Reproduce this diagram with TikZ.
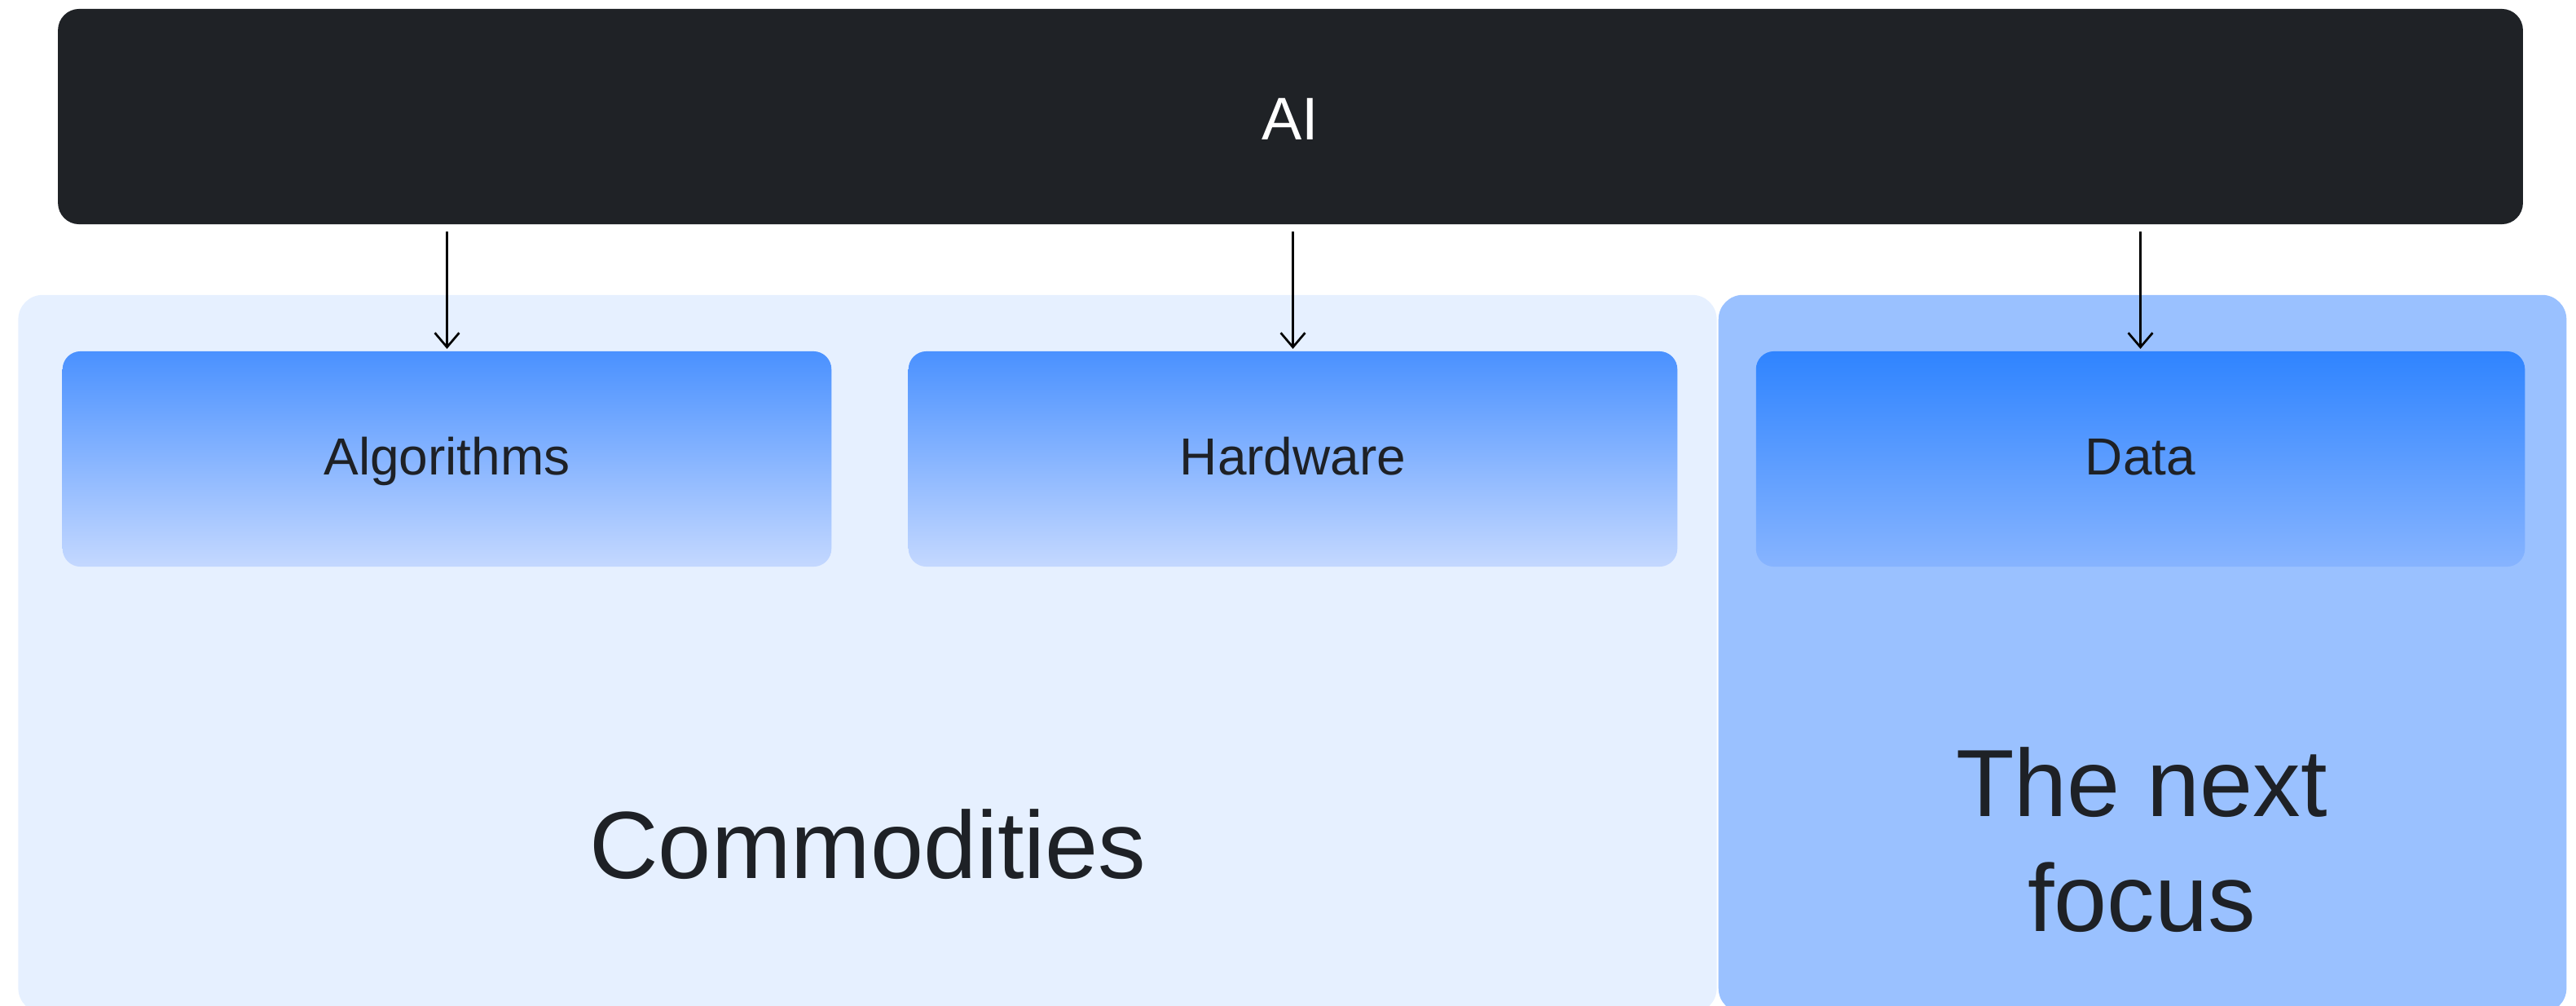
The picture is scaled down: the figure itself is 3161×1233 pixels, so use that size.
\documentclass[tikz,border=0pt]{standalone}
\usepackage{fontspec}
\setmainfont{Liberation Sans}
\usetikzlibrary{arrows.meta}

\definecolor{inkdark}{HTML}{1F2226}
\definecolor{textdark}{HTML}{1E2126}
\definecolor{commodbg}{HTML}{E6F0FF}
\definecolor{focusbg}{HTML}{9AC1FF}
\definecolor{pilltop}{HTML}{4A91FF}
\definecolor{pillbottom}{HTML}{C4D8FF}
\definecolor{datatop}{HTML}{2F84FF}
\definecolor{databottom}{HTML}{87B4FF}

\begin{document}
\begin{tikzpicture}[
  x=0.01cm, y=-0.01cm,
  every node/.style={inner sep=0pt, outer sep=0pt},
  banner/.style={fill=inkdark, rounded corners=0.26cm,
    minimum width=30.23cm, minimum height=2.64cm},
  panel/.style={rounded corners=0.30cm,
    minimum height=8.80cm},
  pill/.style={rounded corners=0.22cm,
    minimum width=9.43cm, minimum height=2.64cm},
  lightpill/.style={pill, top color=pilltop, bottom color=pillbottom},
  strongpill/.style={pill, top color=datatop, bottom color=databottom},
  smalltext/.style={text=textdark, font=\fontsize{18.2pt}{22pt}\selectfont, anchor=base},
  bigtext/.style={text=textdark, font=\fontsize{33.3pt}{40.1pt}\selectfont},
  flow/.style={draw=black, line width=0.77pt,
    -{Straight Barb[length=5pt,width=8.5pt,line width=0.77pt]},
    shorten <=0.09cm, shorten >=0.03cm}
]
\useasboundingbox (0,0) rectangle (3161,1233);

% top banner
\node[banner] (ai) at (1583.5,143) {};
\node[text=white, font=\fontsize{21pt}{25pt}\selectfont, anchor=base] (ailabel) at (1583.5,171) {AI};

% the two background panels
\node[panel, fill=commodbg, minimum width=20.83cm] (commod) at (1064.5,802) {};
\node[panel, fill=focusbg, minimum width=10.40cm] (focus) at (2629,802) {};

% the three pills
\node[lightpill] (alg) at (548.5,563) {};
\node[lightpill] (hw) at (1586.5,563) {};
\node[strongpill] (data) at (2626.5,563) {};

\node[smalltext] (alglabel) at (548.5,582) {Algorithms};
\node[smalltext] (hwlabel) at (1586.5,582) {Hardware};
\node[smalltext] (datalabel) at (2626.5,582) {Data};

% panel captions
\node[bigtext, anchor=base] (commodlabel) at (1065,1077) {Commodities};
\node[bigtext, align=center] (focuslabel) at (2628,1030) {The next\\focus};

% connectors from the banner
\draw[flow] (ai.south -| alg.north) -- (alg.north);
\draw[flow] (ai.south -| hw.north) -- (hw.north);
\draw[flow] (ai.south -| data.north) -- (data.north);
\end{tikzpicture}
\end{document}
